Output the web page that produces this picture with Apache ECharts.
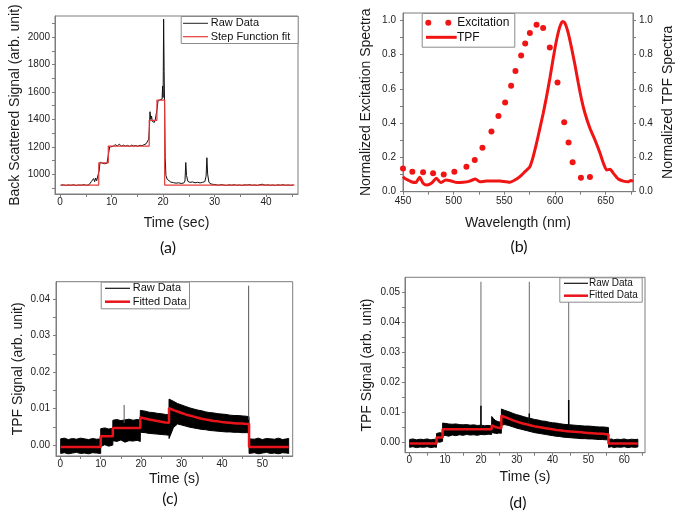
<!DOCTYPE html>
<html><head><meta charset="utf-8">
<script src="https://cdn.jsdelivr.net/npm/echarts@6/dist/echarts.min.js"></script>
<style>html,body{margin:0;padding:0;background:#fff}#c{width:685px;height:519px}</style>
</head><body><div id="c"></div><script>
// ---------- Panel (a) ----------
const aXLabels = [0, 10, 20, 30, 40];
const aXMinor = [5, 15, 25, 35, 45];
const aYLabels = [1000, 1200, 1400, 1600, 1800, 2000];
const aYMinor = [900, 1100, 1300, 1500, 1700, 1900, 2100];
const aLegendNames = ['Raw Data', 'Step Function fit'];
const aRaw = [[0.1,919],[0.6,922],[1.1,917],[1.6,921],[2.1,918],[2.6,923],[3.1,916],[3.6,921],[4.1,919],[4.6,924],[5.1,918],[5.6,922],[5.9,930],[6.1,948],[6.3,938],[6.5,968],[6.7,945],[6.9,972],[7.1,952],[7.3,960],[7.45,948],[7.6,1030],[7.75,1088],[7.9,1075],[8.1,1095],[8.3,1078],[8.5,1090],[8.7,1076],[8.9,1088],[9.1,1080],[9.3,1092],[9.45,1160],[9.6,1198],[9.9,1210],[10.3,1203],[10.7,1215],[11.1,1207],[11.5,1218],[11.9,1205],[12.3,1212],[12.7,1204],[13.1,1210],[13.5,1202],[13.9,1212],[14.3,1206],[14.7,1209],[15.1,1203],[15.5,1211],[15.9,1208],[16.3,1215],[16.7,1222],[17.0,1232],[17.2,1255],[17.35,1350],[17.45,1456],[17.6,1400],[17.75,1425],[17.9,1385],[18.1,1398],[18.3,1378],[18.5,1402],[18.7,1392],[18.85,1480],[19.0,1535],[19.2,1528],[19.4,1542],[19.6,1530],[19.8,1548],[19.9,1644],[20.0,1560],[20.1,2132],[20.2,1750],[20.3,1450],[20.4,1120],[20.55,990],[20.8,962],[21.1,950],[21.5,942],[22,938],[22.5,934],[23,937],[23.5,932],[24,935],[24.25,950],[24.4,1085],[24.55,990],[24.8,948],[25.2,940],[25.7,943],[26.2,937],[26.7,940],[27.2,936],[27.7,941],[28.1,945],[28.35,985],[28.5,1120],[28.65,1000],[28.9,940],[29.3,928],[29.8,925],[30.3,922],[30.8,919],[31.3,924],[31.8,920],[32.3,917],[32.8,922],[33.3,919],[33.8,923],[34.3,918],[34.8,921],[35.3,917],[35.8,922],[36.3,920],[36.8,924],[37.3,918],[37.8,921],[38.3,917],[38.8,923],[39.3,926],[39.8,919],[40.3,922],[40.8,918],[41.3,921],[41.8,917],[42.3,922],[42.8,919],[43.3,923],[43.8,918],[44.3,921],[44.8,917],[45.3,922]];
const aFit = [[0.1,920],[7.5,920],[7.5,1083],[9.35,1083],[9.35,1205],[17.3,1205],[17.3,1393],[18.8,1393],[18.8,1541],[20.3,1541],[20.3,920],[45.5,920]];

// ---------- Panel (b) ----------
const bXLabels = [450, 500, 550, 600, 650];
const bXMinor = [475, 525, 575, 625, 675];
const bYLabels = [0, 0.2, 0.4, 0.6, 0.8, 1.0];
const bYMinor = [0.1, 0.3, 0.5, 0.7, 0.9];
const bLegendNames = ['Excitation', 'TPF'];
const bExcitation = [[450,0.136],[459.2,0.117],[469.8,0.113],[479.7,0.107],[490.2,0.101],[500.7,0.117],[512.6,0.146],[520.8,0.185],[528.4,0.257],[537.3,0.351],[544.2,0.442],[550.8,0.52],[556.7,0.618],[561,0.704],[566.6,0.795],[570.6,0.865],[575.2,0.926],[581.8,0.975],[588.3,0.955],[594.9,0.842],[602.5,0.637],[609.1,0.405],[613.4,0.287],[617.4,0.172],[625.6,0.082],[634.5,0.086]];
const bTPF = [[450,0.088],[451.6,0.078],[455,0.068],[458.2,0.058],[462.5,0.053],[466.5,0.084],[469.8,0.049],[473.7,0.039],[478,0.049],[483,0.078],[487.2,0.053],[492.2,0.068],[497.8,0.062],[503.4,0.053],[509.3,0.055],[515.9,0.062],[521.5,0.074],[525.8,0.058],[532.4,0.062],[539,0.062],[545.5,0.062],[552.1,0.058],[555.4,0.055],[560.4,0.068],[565.3,0.088],[570.3,0.117],[575.2,0.146],[578.5,0.205],[581.8,0.283],[585.1,0.37],[588.4,0.458],[591.7,0.556],[595,0.663],[598.3,0.78],[601.6,0.887],[604.9,0.965],[607.5,0.994],[609.8,0.984],[613.1,0.926],[616.4,0.838],[619.7,0.741],[623,0.634],[626.3,0.536],[629.6,0.458],[634.5,0.37],[639.5,0.302],[644.5,0.224],[647.8,0.166],[651.1,0.127],[654.4,0.131],[657.7,0.107],[662.5,0.074],[667.5,0.062],[672.4,0.058],[675,0.066],[677,0.06]];

// ---------- Panel (c) ----------
const cXLabels = [0, 10, 20, 30, 40, 50];
const cXMinor = [5, 15, 25, 35, 45, 55];
const cYLabels = [0, 0.01, 0.02, 0.03, 0.04];
const cYMinor = [0.005, 0.015, 0.025, 0.035];
const cLegendNames = ['Raw Data', 'Fitted Data'];
const cTime = [0.1,1,2,3,4,5,6,7,8,9,9.99, 10.01,11,12,12.99, 13.01,14,15,16,17,18,19,19.79, 19.81,21,22,23,24,25,26,26.89, 26.91,28,29,30,31,32,33,34,35,36,37,38,39,40,41,42,43,44,45,46,46.69, 46.71,48,49,50,51,52,53,54,55,56,56.5];
const cUpper = [0.0017,0.0019,0.0015,0.0018,0.0016,0.0019,0.0017,0.0015,0.0018,0.0016,0.0017, 0.0045,0.0047,0.0044,0.0046, 0.0068,0.0070,0.0067,0.0069,0.0071,0.0068,0.0070,0.0069, 0.0095,0.0093,0.0090,0.0089,0.0087,0.0086,0.0084,0.0083, 0.0126,0.0120,0.0114,0.0110,0.0106,0.0102,0.0099,0.0096,0.0094,0.0091,0.0089,0.0088,0.0086,0.0085,0.0084,0.0082,0.0081,0.0081,0.0080,0.0079,0.0078, 0.0017,0.0016,0.0019,0.0015,0.0018,0.0017,0.0016,0.0019,0.0015,0.0017,0.0018];
const cLower = [-0.0023,-0.0021,-0.0024,-0.0022,-0.0020,-0.0023,-0.0022,-0.0024,-0.0021,-0.0022,-0.0023, -0.0004,0.0001,-0.0003,0.0000, 0.0012,0.0010,0.0014,0.0008,0.0012,0.0011,0.0013,0.0010, 0.0035,0.0034,0.0032,0.0031,0.0030,0.0029,0.0028,0.0027, 0.0018,0.0048,0.0058,0.0055,0.0052,0.0049,0.0047,0.0045,0.0043,0.0042,0.0040,0.0039,0.0038,0.0037,0.0036,0.0036,0.0035,0.0035,0.0034,0.0034,0.0034, -0.0023,-0.0021,-0.0024,-0.0022,-0.0020,-0.0023,-0.0022,-0.0024,-0.0021,-0.0022,-0.0023];
const cFit = [[0.1,-0.0005],[10,-0.0005],[10,0.0024],[13,0.0024],[13,0.0047],[19.8,0.0047],[19.8,0.0076],[21,0.0073],[22,0.0070],[23,0.0068],[24,0.0066],[25,0.0064],[26,0.0062],[26.9,0.0061],[26.9,0.0101],[28,0.0096],[29,0.0092],[30,0.0088],[31,0.0084],[32,0.0081],[33,0.0078],[34,0.0075],[35,0.0072],[36,0.0070],[37,0.0068],[38,0.0066],[39,0.0065],[40,0.0063],[41,0.0062],[42,0.0061],[43,0.0060],[44,0.0059],[45,0.0059],[46,0.0058],[46.7,0.0058],[46.7,-0.0005],[56.5,-0.0005]];
const cSpikes = [[15.8,0.0060,0.0110],[46.6,0.0070,0.0437]]; // [time, base, peak]

// ---------- Panel (d) ----------
const dXLabels = [0, 10, 20, 30, 40, 50, 60];
const dXMinor = [5, 15, 25, 35, 45, 55, 65];
const dYLabels = [0, 0.01, 0.02, 0.03, 0.04, 0.05];
const dYMinor = [0.005, 0.015, 0.025, 0.035, 0.045];
const dLegendNames = ['Raw Data', 'Fitted Data'];
const dTime = [0.1,1,2,3,4,5,6,7,7.59, 7.61,8.5,9.29, 9.31,10,11,12,13,14,15,16,17,18,19,20,21,22,22.99, 23.01,23.5,24,24.5,25,25.69, 25.71,26.5,27,28,29,30,31,32,33,34,35,36,37,38,39,40,41,42,43,44,45,46,47,48,49,50,51,52,53,54,55,55.59, 55.61,56.5,57,58,59,60,61,62,63,63.8];
const dUpper = [0.0008,0.0010,0.0007,0.0009,0.0008,0.0010,0.0007,0.0009,0.0008, 0.0028,0.0031,0.0029, 0.0063,0.0062,0.0060,0.0059,0.0060,0.0058,0.0057,0.0058,0.0056,0.0057,0.0055,0.0056,0.0054,0.0055,0.0054, 0.0085,0.0078,0.0072,0.0069,0.0067,0.0066, 0.0110,0.0106,0.0104,0.0100,0.0095,0.0091,0.0088,0.0084,0.0081,0.0078,0.0075,0.0073,0.0070,0.0069,0.0066,0.0064,0.0063,0.0061,0.0059,0.0058,0.0057,0.0056,0.0055,0.0054,0.0053,0.0053,0.0052,0.0051,0.0050,0.0050,0.0049,0.0048, 0.0008,0.0010,0.0007,0.0009,0.0008,0.0010,0.0007,0.0009,0.0008,0.0009];
const dLower = [-0.0018,-0.0016,-0.0019,-0.0017,-0.0018,-0.0016,-0.0019,-0.0017,-0.0018, 0.0001,-0.0001,0.0002, 0.0020,0.0022,0.0019,0.0023,0.0021,0.0024,0.0022,0.0025,0.0023,0.0024,0.0022,0.0025,0.0024,0.0026,0.0025, 0.0032,0.0030,0.0029,0.0028,0.0030,0.0029, 0.0055,0.0058,0.0057,0.0054,0.0050,0.0046,0.0043,0.0040,0.0037,0.0034,0.0031,0.0029,0.0027,0.0025,0.0023,0.0021,0.0019,0.0018,0.0016,0.0015,0.0014,0.0013,0.0012,0.0011,0.0011,0.0010,0.0010,0.0009,0.0008,0.0008,0.0007,0.0007, -0.0018,-0.0016,-0.0019,-0.0017,-0.0018,-0.0016,-0.0019,-0.0017,-0.0018,-0.0017];
const dFit = [[0.1,-0.0005],[7.6,-0.0005],[7.6,0.0015],[9.3,0.0015],[9.3,0.0042],[23,0.0042],[23,0.0055],[24,0.0050],[25,0.0047],[25.7,0.0046],[25.7,0.0088],[26.5,0.0084],[27,0.0082],[28,0.0077],[29,0.0072],[30,0.0068],[31,0.0064],[32,0.0061],[33,0.0058],[34,0.0055],[35,0.0052],[36,0.0050],[37,0.0048],[38,0.0046],[39,0.0044],[40,0.0042],[41,0.0040],[42,0.0039],[43,0.0037],[44,0.0036],[45,0.0035],[46,0.0034],[47,0.0033],[48,0.0032],[49,0.0031],[50,0.0030],[51,0.0029],[52,0.0028],[53,0.0027],[54,0.0027],[55,0.0026],[55.6,0.0026],[55.6,-0.0005],[63.8,-0.0005]];
const dSpikes = [[20.0,0.0040,0.0535],[33.5,0.0055,0.0535],[44.5,0.0035,0.0469]];
const dSpikeCores = [[20.0,0.0040,0.0121],[33.5,0.0055,0.0095],[44.5,0.0035,0.0140]];

const panelLabels = ['(a)', '(b)', '(c)', '(d)'];

// ---------- build ----------
const FONT = '"Liberation Sans", Arial, sans-serif';
const AX = '#7d7d7d';
function mkAxis(o) {
  return {
    type: 'value', gridIndex: o.g, min: o.min, max: o.max, position: o.pos,
    axisLine: { show: true, onZero: false, lineStyle: { color: AX, width: 1 } },
    axisTick: { show: true, inside: false, length: 3, lineStyle: { color: AX }, customValues: o.labels.concat(o.minor) },
    axisLabel: { show: true, customValues: o.labels, margin: o.margin, fontSize: 10, color: '#222', fontFamily: FONT, formatter: v => o.fmt(v) },
    splitLine: { show: false }, minorTick: { show: false },
    name: o.name, nameLocation: 'middle', nameGap: o.gap, nameRotate: o.rot,
    nameTextStyle: { fontSize: 14, color: '#1a1a1a', fontFamily: FONT }
  };
}
const f0 = v => String(Math.round(v));
const f1 = v => v.toFixed(1);
const f2 = v => v.toFixed(2);

const xAxis = [
  mkAxis({g:0, min:-1, max:46.2, pos:'bottom', labels:aXLabels, minor:aXMinor, margin:3, fmt:f0, name:'Time (sec)', gap:22, rot:0}),
  mkAxis({g:1, min:450, max:677, pos:'bottom', labels:bXLabels, minor:bXMinor, margin:5, fmt:f0, name:'Wavelength (nm)', gap:24, rot:0}),
  mkAxis({g:2, min:-1.06, max:57.5, pos:'bottom', labels:cXLabels, minor:cXMinor, margin:3, fmt:f0, name:'Time (s)', gap:16, rot:0}),
  mkAxis({g:3, min:-1.2, max:65.8, pos:'bottom', labels:dXLabels, minor:dXMinor, margin:3, fmt:f0, name:'Time (s)', gap:17, rot:0})
];
const yAxis = [
  mkAxis({g:0, min:855, max:2155, pos:'left', labels:aYLabels, minor:aYMinor, margin:5, fmt:f0, name:'Back Scattered Signal (arb. unit)', gap:33, rot:90}),
  mkAxis({g:1, min:0, max:1.043, pos:'left', labels:bYLabels, minor:bYMinor, margin:7, fmt:f1, name:'Normalized Excitation Spectra', gap:30, rot:90}),
  mkAxis({g:1, min:0, max:1.043, pos:'right', labels:bYLabels, minor:bYMinor, margin:6, fmt:f1, name:'Normalized TPF Spectra', gap:28, rot:90}),
  mkAxis({g:2, min:-0.003, max:0.0448, pos:'left', labels:cYLabels, minor:cYMinor, margin:6, fmt:f2, name:'TPF Signal (arb. unit)', gap:31, rot:90}),
  mkAxis({g:3, min:-0.0036, max:0.055, pos:'left', labels:dYLabels, minor:dYMinor, margin:5, fmt:f2, name:'TPF Signal (arb. unit)', gap:31, rot:90})
];
const gridBase = { show: true, borderColor: AX, borderWidth: 1, backgroundColor: 'transparent', containLabel: false, outerBoundsMode: 'none' };
const grid = [
  Object.assign({ left: 55, top: 16, width: 243, height: 178 }, gridBase),
  Object.assign({ left: 403, top: 13, width: 230, height: 178.7 }, gridBase),
  Object.assign({ left: 56, top: 281.7, width: 236.7, height: 174.3 }, gridBase),
  Object.assign({ left: 405, top: 277.3, width: 240, height: 175.4 }, gridBase)
];

// noisy raw-data band: polygon between read-off lower and upper envelopes, mapped through the axes
function band(xi, yi, t, lo, up) {
  return {
    type: 'custom', xAxisIndex: xi, yAxisIndex: yi, silent: true, z: 2,
    data: [[t[0], lo[0]]],
    renderItem: function (params, api) {
      const pts = [];
      for (let i = 0; i < t.length; i++) pts.push(api.coord([t[i], up[i]]));
      for (let i = t.length - 1; i >= 0; i--) pts.push(api.coord([t[i], lo[i]]));
      return { type: 'polygon', shape: { points: pts }, style: { fill: '#000', stroke: '#000', lineWidth: 1 } };
    }
  };
}
function spikes(list, xi, yi, color, width) {
  return list.map(s => ({ type:'line', xAxisIndex:xi, yAxisIndex:yi, data:[[s[0], s[1]], [s[0], s[2]]], showSymbol:false, symbol:'none', lineStyle:{ color, width }, silent:true, z:3 }));
}

const series = [
  { type:'line', name:'a_raw', xAxisIndex:0, yAxisIndex:0, data:aRaw, showSymbol:false, symbol:'none', lineStyle:{ color:'#111', width:1 }, z:2 },
  { type:'line', name:'a_fit', xAxisIndex:0, yAxisIndex:0, data:aFit, showSymbol:false, symbol:'none', lineStyle:{ color:'#e53a3a', width:1.2 }, z:3 },
  { type:'scatter', name:'b_exc', xAxisIndex:1, yAxisIndex:1, data:bExcitation, symbol:'circle', symbolSize:6, itemStyle:{ color:'#f01414', opacity:1 }, z:3 },
  { type:'line', name:'b_tpf', xAxisIndex:1, yAxisIndex:2, data:bTPF, showSymbol:false, symbol:'none', smooth:0.2, lineStyle:{ color:'#f01414', width:3 }, z:3 },
  band(2, 3, cTime, cLower, cUpper),
  ...spikes(cSpikes, 2, 3, '#555', 1),
  { type:'line', name:'c_fit', xAxisIndex:2, yAxisIndex:3, data:cFit, showSymbol:false, symbol:'none', lineStyle:{ color:'#e8141a', width:2.5 }, z:4 },
  band(3, 4, dTime, dLower, dUpper),
  ...spikes(dSpikes, 3, 4, '#6a6a6a', 1),
  ...spikes(dSpikeCores, 3, 4, '#000', 1.5),
  { type:'line', name:'d_fit', xAxisIndex:3, yAxisIndex:4, data:dFit, showSymbol:false, symbol:'none', lineStyle:{ color:'#e8141a', width:2.5 }, z:4 }
];

function legend(box, rows, fs) {
  const els = [{ type:'rect', shape:{ x:box[0]+0.5, y:box[1]+0.5, width:box[2], height:box[3] }, style:{ fill:'#fff', stroke:'#8a8a8a', lineWidth:1 }, z:100 }];
  rows.forEach(r => {
    if (r.kind === 'line') els.push({ type:'line', shape:{ x1:r.x1, y1:r.y, x2:r.x2, y2:r.y }, style:{ stroke:r.color, lineWidth:r.w }, z:101 });
    else r.dots.forEach(dx => els.push({ type:'circle', shape:{ cx:dx, cy:r.y, r:3 }, style:{ fill:r.color }, z:101 }));
    els.push({ type:'text', x:r.tx, y:r.y, style:{ text:r.text, fontSize:fs, fontFamily:FONT, fill:'#111', verticalAlign:'middle', align:'left' }, z:101 });
  });
  return els;
}
function label(text, x, y) {
  return { type:'text', x, y, style:{ text, fontSize:16, fontFamily:'Lato, "Open Sans", sans-serif', fill:'#111', align:'center', verticalAlign:'middle' }, z:100 };
}
const graphic = [
  ...legend([180.7, 16, 117, 27], [
    { kind:'line', x1:183, x2:208, y:23.3, color:'#222', w:1, tx:210.7, text:aLegendNames[0] },
    { kind:'line', x1:183, x2:208, y:36.7, color:'#e53a3a', w:1.2, tx:210.7, text:aLegendNames[1] }], 11),
  ...legend([421.7, 13, 92.6, 33.7], [
    { kind:'dots', dots:[428.3, 448.3], y:22.7, color:'#f01414', tx:457.3, text:bLegendNames[0] },
    { kind:'line', x1:426, x2:456.7, y:37.3, color:'#f01414', w:3, tx:457, text:bLegendNames[1] }], 12),
  ...legend([100.7, 281.7, 88.3, 26.6], [
    { kind:'line', x1:105, x2:130, y:288.3, color:'#111', w:1.2, tx:132.7, text:cLegendNames[0] },
    { kind:'line', x1:105, x2:130, y:301.7, color:'#e8141a', w:2.5, tx:132.7, text:cLegendNames[1] }], 11),
  ...legend([559.3, 277.3, 82.4, 24.4], [
    { kind:'line', x1:564, x2:588, y:283.3, color:'#111', w:1.2, tx:589, text:dLegendNames[0] },
    { kind:'line', x1:564, x2:588, y:295.7, color:'#e8141a', w:2.5, tx:589, text:dLegendNames[1] }], 10),
  label(panelLabels[0], 168, 248),
  label(panelLabels[1], 519, 247),
  label(panelLabels[2], 170, 499),
  label(panelLabels[3], 518, 503)
];

const chart = echarts.init(document.getElementById('c'), null, { renderer: 'canvas', width: 685, height: 519 });
chart.setOption({ animation: false, backgroundColor: '#fff', grid, xAxis, yAxis, series, graphic });
</script></body></html>
